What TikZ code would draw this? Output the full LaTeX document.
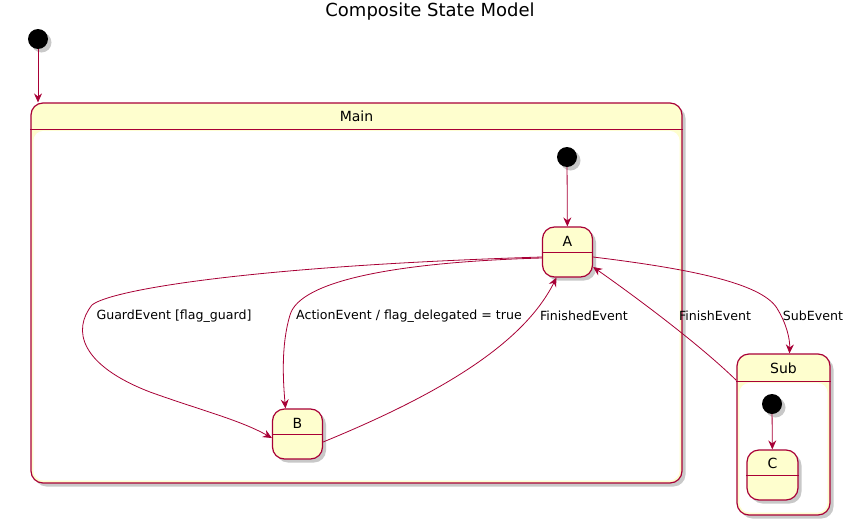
\documentclass[tikz,border=0pt]{standalone}
\usepackage{fontspec}
\setmainfont{DejaVu Sans}
\usetikzlibrary{arrows.meta,shadows}
\definecolor{umlred}{HTML}{A80036}
\definecolor{umlfill}{HTML}{FEFECE}
\begin{document}
\begin{tikzpicture}[x=1pt,y=-1pt,
 shad/.style={drop shadow={shadow xshift=3.5pt,shadow yshift=-3.5pt,opacity=0.3,fill=black!70}},
 statebox/.style={draw=umlred,line width=1.2pt,fill=umlfill,rounded corners=12pt,shad,inner sep=0pt},
 initdot/.style={circle,fill=black,minimum size=20pt,inner sep=0pt,shad},
 edge/.style={draw=umlred,line width=0.8pt,-{Stealth[length=9pt,width=8pt,inset=3pt]}},
 sep/.style={draw=umlred,line width=1.1pt},
 elabel/.style={font=\fontsize{12.6}{15}\selectfont,text=black,inner sep=0pt},
 sname/.style={font=\fontsize{14}{16}\selectfont,text=black,inner sep=0pt}]
\useasboundingbox (0,0) rectangle (855,525);

\node[font=\fontsize{18}{22}\selectfont,inner sep=0pt] (title) at (430,12) {Composite State Model};

% top initial
\node[initdot] (i0) at (38,39) {};

% Main composite
\node[statebox,minimum width=651pt,minimum height=380pt] (Main) at (356.5,293) {};
\fill[white,rounded corners=10pt] ([xshift=3pt,yshift=-28.5pt]Main.north west) rectangle ([xshift=-3pt,yshift=3pt]Main.south east);
\draw[sep] ([yshift=-27pt]Main.north west) -- ([yshift=-27pt]Main.north east);
\node[sname] (MainT) at (356.5,116) {Main};
\draw[edge] (i0) -- (i0 |- Main.north);

% inner initial and A
\node[initdot] (i1) at (567,157) {};
\node[statebox,minimum width=50pt,minimum height=50pt] (A) at (567.5,252) {};
\draw[sep] ([yshift=-26pt]A.north west) -- ([yshift=-26pt]A.north east);
\node[sname] (AT) at (567.5,241) {A};
\draw[edge] (i1) -- (A);

% B
\node[statebox,minimum width=50pt,minimum height=50pt] (B) at (297.5,434) {};
\draw[sep] ([yshift=-26pt]B.north west) -- ([yshift=-26pt]B.north east);
\node[sname] (BT) at (297.5,423) {B};

% Sub composite
\node[statebox,minimum width=93pt,minimum height=161pt] (Sub) at (783.5,434.5) {};
\fill[white,rounded corners=10pt] ([xshift=3pt,yshift=-29.5pt]Sub.north west) rectangle ([xshift=-3pt,yshift=3pt]Sub.south east);
\draw[sep] ([yshift=-28pt]Sub.north west) -- ([yshift=-28pt]Sub.north east);
\node[sname] (SubT) at (783.5,368) {Sub};
\node[initdot] (i2) at (772,404) {};
\node[statebox,minimum width=51pt,minimum height=50pt] (C) at (772.5,475) {};
\draw[sep] ([yshift=-26pt]C.north west) -- ([yshift=-26pt]C.north east);
\node[sname] (CT) at (772.5,463) {C};
\draw[edge] (i2) -- (C);

% transitions
\coordinate (aw1) at ([yshift=-5pt]A.west);
\coordinate (aw2) at ([yshift=-6pt]A.west);
\coordinate (ae1) at ([yshift=-5pt]A.east);
\coordinate (ae2) at ([yshift=-15pt]A.east);
\coordinate (ab) at ([xshift=-11pt]A.south);
\coordinate (bw) at ([yshift=-4pt]B.west);
\coordinate (be) at ([yshift=-8pt]B.east);
\coordinate (bt) at ([xshift=-12pt]B.north);
\coordinate (st) at ([xshift=6pt]Sub.north);
\coordinate (sw) at ([yshift=-27pt]Sub.north west);

\draw[edge] (aw1) .. controls (250,266) and (110,290) .. (92,305)
  .. controls (72,330) and (80,365) .. (150,392)
  .. controls (200,410) and (240,420) .. (bw);
\draw[edge] (aw2) .. controls (400,262) and (300,280) .. (290,315)
  .. controls (281,345) and (283,380) .. (bt);
\draw[edge] (be) .. controls (450,390) and (525,340) .. (ab);
\draw[edge] (sw) .. controls (700,345) and (640,300) .. (ae2);
\draw[edge] (ae1) .. controls (700,270) and (765,285) .. (778,310)
  .. controls (787,325) and (790,340) .. (st);

\node[elabel] (lg) at (174,316) {GuardEvent [flag\_guard]};
\node[elabel] (la) at (409,316) {ActionEvent / flag\_delegated = true};
\node[elabel] (lf) at (584,316) {FinishedEvent};
\node[elabel] (lfe) at (715,316) {FinishEvent};
\node[elabel] (ls) at (813,316) {SubEvent};
\end{tikzpicture}
\end{document}
